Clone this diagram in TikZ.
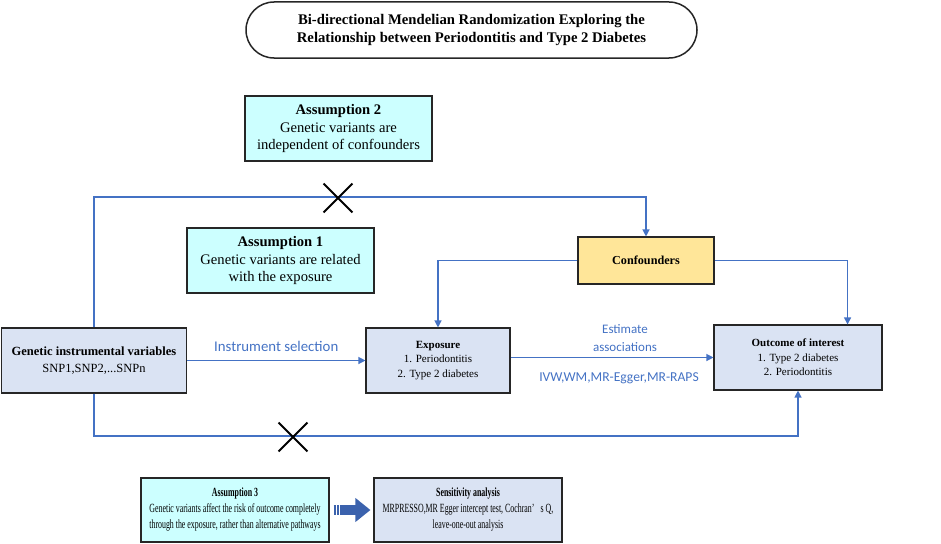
\documentclass[tikz,border=0pt]{standalone}
\usepackage{fontspec}
\setmainfont{Liberation Serif}
\newfontfamily\lblfont{Carlito}
\newfontfamily\condfont[FakeStretch=0.63]{Liberation Serif}
\usetikzlibrary{arrows.meta,shapes.misc,calc}
\definecolor{lineblue}{HTML}{4472C4}
\definecolor{boxblue}{HTML}{DAE3F3}
\definecolor{boxcyan}{HTML}{CCFFFF}
\definecolor{boxyellow}{HTML}{FFE699}
\definecolor{arrowblue}{HTML}{3B62AD}
\begin{document}
\begin{tikzpicture}[x=1pt,y=-1pt,
  box/.style={draw=black!85, line width=1.1pt, inner sep=0pt, align=center, anchor=center},
  bluebox/.style={box, fill=boxblue, font=\fontsize{11}{14.5}\selectfont},
  cyanbox/.style={box, fill=boxcyan, font=\fontsize{14.6}{17.5}\selectfont, minimum width=187pt, minimum height=65pt},
  condbox/.style={box, minimum width=188pt, minimum height=64pt, font=\condfont\fontsize{12.5}{16}\selectfont},
  ln/.style={draw=lineblue, line width=1.2pt},
  arr/.style={ln, -{Triangle[length=7pt,width=7pt]}},
  lbl/.style={text=lineblue, font=\lblfont\fontsize{13}{17.5}\selectfont, align=center},
  xmark/.style={cross out, draw=black, line width=1.8pt, minimum size=27pt, inner sep=0pt}]
\useasboundingbox (0,0) rectangle (941,543);

% title
\node[box, rounded corners=28pt, line width=1.5pt, minimum width=451pt, minimum height=56pt,
      font=\bfseries\fontsize{14.7}{17.5}\selectfont] (title) at (471.5,30)
  {Bi-directional Mendelian Randomization Exploring the\\Relationship between Periodontitis and Type 2 Diabetes};

% assumptions
\node[cyanbox] (a2) at (338.5,128.5) {\textbf{Assumption 2}\\Genetic variants are\\independent of confounders};
\node[cyanbox] (a1) at (280.5,260.5) {\textbf{Assumption 1}\\Genetic variants are related\\with the exposure};

% main boxes
\node[bluebox, minimum width=185pt, minimum height=65pt, font=\fontsize{12.5}{16.5}\selectfont] (gen) at (94,360.5)
  {\textbf{Genetic instrumental variables}\\SNP1,SNP2,...SNPn};
\node[bluebox, minimum width=144pt, minimum height=65pt] (exp) at (438,360.5)
  {\textbf{Exposure}\\1. Periodontitis\\2. Type 2 diabetes};
\node[bluebox, minimum width=168pt, minimum height=65pt] (out) at (798,357.5)
  {\textbf{Outcome of interest}\\1. Type 2 diabetes\\2. Periodontitis};
\node[box, fill=boxyellow, minimum width=136pt, minimum height=47pt, font=\bfseries\fontsize{12.2}{14}\selectfont] (conf) at (646,260.5)
  {Confounders};

% bottom boxes
\node[condbox, fill=boxcyan] (a3) at (235,510)
  {\textbf{Assumption 3}\\Genetic variants affect the risk of outcome completely\\through the exposure, rather than alternative pathways};
\node[condbox, fill=boxblue] (sens) at (468,510)
  {\textbf{Sensitivity analysis}\\MRPRESSO,MR Egger intercept test, Cochran’\enspace s Q,\\leave-one-out analysis};

% connectors
\coordinate (topy) at (0,197);
\coordinate (boty) at (0,436);
\draw[arr] (gen.north) |- (conf.north |- topy) -- (conf.north);
\draw[arr] (gen.south) |- (out.south |- boty) -- (out.south);
\draw[arr] (gen.east) -- node[lbl, font=\lblfont\fontsize{14.8}{17.5}\selectfont, yshift=14.5pt] {Instrument selection} (exp.west);
\draw[arr] (exp.east |- out.west) -- node[lbl, xshift=13pt, yshift=19.5pt] {Estimate\\associations}
  node[lbl, font=\lblfont\fontsize{13.6}{17.5}\selectfont, xshift=7pt, yshift=-20.5pt] {IVW,WM,MR-Egger,MR-RAPS} (out.west);
\draw[arr] (conf.west) -| (exp.north);
\draw[arr] (conf.east) -| ([xshift=-35pt]out.north east);

% cross marks
\node[xmark] (x1) at (338,198) {};
\node[xmark] (x2) at (293,437) {};

% block arrow
\draw[line width=10pt, draw=arrowblue, -{Triangle[length=15pt,width=23pt]}] ([xshift=4pt]a3.east) -- ([xshift=-3pt]sens.west);
\foreach \d in {6.5,9.5}
  \draw[white, line width=0.8pt] ([xshift=\d pt, yshift=5.5pt]a3.east) -- ([xshift=\d pt, yshift=-5.5pt]a3.east);
\end{tikzpicture}
\end{document}
